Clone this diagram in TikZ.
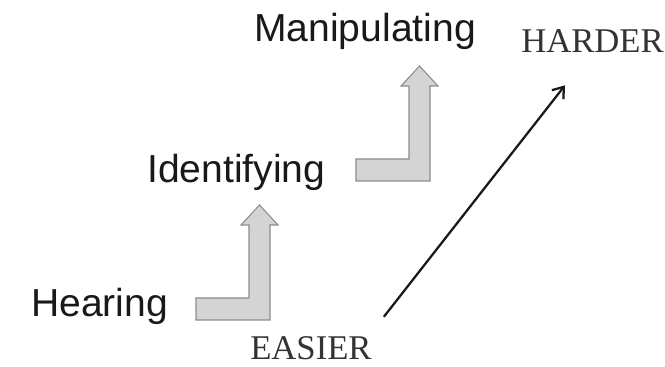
\documentclass[tikz,border=0pt]{standalone}
\usepackage{fontspec}
\setmainfont{Liberation Sans}
\newfontfamily\levelfont{Liberation Serif}
\usetikzlibrary{arrows.meta}

\begin{document}
\begin{tikzpicture}[x=0.75pt, y=-0.75pt,
    stage/.style={anchor=base west, inner sep=0pt, text=black!90, font=\fontsize{29.3}{35}\selectfont},
    level/.style={anchor=base west, inner sep=0pt, text=black!80, font=\levelfont\fontsize{26}{31}\selectfont},
    bentarrow/.style={fill=black!17, draw=black!45, line width=0.8pt, line join=miter},
    trend/.style={-{Straight Barb[length=7.5pt, width=11pt]}, line width=1.7pt, black!90}]

\useasboundingbox (0,0) rectangle (665,367);

% Stages
\node[stage] (hearing) at (31,317) {Hearing};
\node[stage] (identifying) at (147,183) {Identifying};
\node[stage] (manipulating) at (254,42) {Manipulating};

% Bent arrows between the stages
\foreach \p in {(196,320),(356,181)}
  \draw[bentarrow, shift={\p}] (0,0) -- (74,0) -- (74,-95) -- (82,-95) -- (63.5,-115)
    -- (45,-95) -- (53,-95) -- (53,-22) -- (0,-22) -- cycle;

% Difficulty
\node[level] (easier) at (250,360) {EASIER};
\node[level] (harder) at (521,53) {HARDER};
\draw[trend] ([xshift=9pt, yshift=15pt]easier.north east) -- ([xshift=33pt, yshift=-24pt]harder.south west);

\end{tikzpicture}
\end{document}
